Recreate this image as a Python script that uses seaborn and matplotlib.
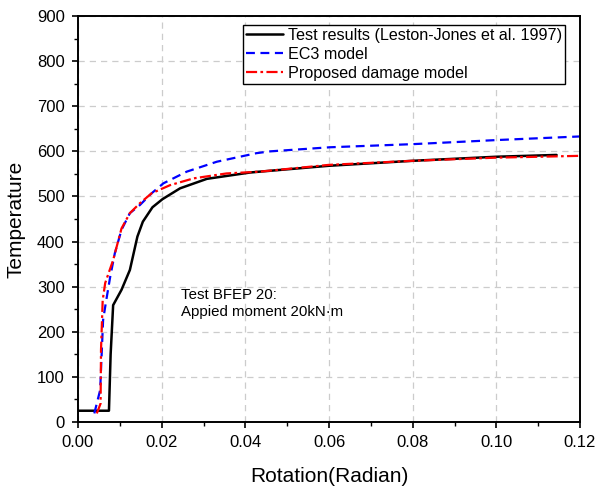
import pandas as pd
import matplotlib
matplotlib.use("Agg")
import matplotlib.pyplot as plt
import seaborn as sns
from matplotlib.ticker import MultipleLocator

# Test results (Leston-Jones et al. 1997)
test_rot = [0.0, 0.0074, 0.0078, 0.0084, 0.0104, 0.0124, 0.0142, 0.0155, 0.0178, 0.0202,
            0.0244, 0.0308, 0.0411, 0.0435, 0.06, 0.08, 0.10, 0.1144]
test_temp = [25, 25, 150, 259, 293, 337, 411, 444, 476, 494,
             518, 539, 553, 555, 568, 579, 588, 592]

# EC3 model
ec3_rot = [0.0039, 0.0053, 0.0057, 0.006, 0.0067, 0.0077, 0.0088, 0.0104, 0.0124, 0.0148,
           0.0176, 0.0204, 0.026, 0.0332, 0.0427, 0.046, 0.0602, 0.0802, 0.1001, 0.12]
ec3_temp = [19, 71, 160, 226, 267, 322, 374, 426, 463, 481,
            507, 529, 555, 577, 596, 600, 609, 616, 625, 633]

# Proposed damage model
dmg_rot = [0.0045, 0.0054, 0.0055, 0.0059, 0.0065, 0.0084, 0.0104, 0.0124, 0.0148, 0.0176,
           0.022, 0.0276, 0.0355, 0.0435, 0.06, 0.08, 0.10, 0.12]
dmg_temp = [19, 41, 160, 270, 308, 359, 429, 463, 485, 507,
            525, 540, 551, 555, 570, 579, 586, 590]

sns.set_style("ticks")
plt.rcParams['font.family'] = ['Liberation Sans', 'DejaVu Sans']
plt.rcParams['xtick.direction'] = 'out'
plt.rcParams['ytick.direction'] = 'out'
plt.rcParams['text.color'] = 'black'
plt.rcParams['axes.labelcolor'] = 'black'
plt.rcParams['xtick.labelcolor'] = 'black'
plt.rcParams['ytick.labelcolor'] = 'black'

fig, ax = plt.subplots(figsize=(5.97, 4.91), dpi=100)
fig.subplots_adjust(left=78 / 597, right=580 / 597, top=1 - 16 / 491, bottom=1 - 422 / 491)

df_test = pd.DataFrame({'rot': test_rot, 'temp': test_temp})
df_ec3 = pd.DataFrame({'rot': ec3_rot, 'temp': ec3_temp})
df_dmg = pd.DataFrame({'rot': dmg_rot, 'temp': dmg_temp})

sns.lineplot(data=df_test, x='rot', y='temp', sort=False, color='black', linewidth=1.8,
             label='Test results (Leston-Jones et al. 1997)', ax=ax)
sns.lineplot(data=df_ec3, x='rot', y='temp', sort=False, color='#0000ff', linewidth=1.6,
             label='EC3 model', ax=ax)
sns.lineplot(data=df_dmg, x='rot', y='temp', sort=False, color='#ff0000', linewidth=1.6,
             label='Proposed damage model', ax=ax)
ax.lines[1].set_dashes([4, 2.5])
ax.lines[2].set_dashes([5, 1.5, 1.2, 1.5])

ax.set_xlim(0, 0.12)
ax.set_ylim(0, 900)
ax.xaxis.set_major_locator(MultipleLocator(0.02))
ax.xaxis.set_minor_locator(MultipleLocator(0.01))
ax.yaxis.set_major_locator(MultipleLocator(100))
ax.yaxis.set_minor_locator(MultipleLocator(50))
ax.xaxis.set_major_formatter(plt.FuncFormatter(lambda v, p: f"{v:.2f}"))
ax.tick_params(which='major', length=4.5, width=1.2, labelsize=12, color='black',
               labelcolor='black', pad=5)
ax.tick_params(which='minor', length=2.8, width=1.0, color='black')
ax.grid(True, which='major', linestyle=(0, (5, 4)), color='#cccccc', linewidth=0.9)

for sp in ax.spines.values():
    sp.set_color('black')
    sp.set_linewidth(1.4)

ax.set_xlabel('Rotation(Radian)', fontsize=15, labelpad=12, color='black')
ax.set_ylabel('Temperature', fontsize=15, labelpad=8, color='black')

ax.text(0.0246, 262, 'Test BFEP 20:\nAppied moment 20kN·m', fontsize=10.8, va='center',
        linespacing=1.3, color='black')

leg = ax.legend(loc='upper right', bbox_to_anchor=(0.970, 0.978), fontsize=11.6,
                frameon=True, fancybox=False, framealpha=1, edgecolor='black',
                handlelength=2.3, handletextpad=0.3, borderpad=0.18, labelspacing=0.25,
                borderaxespad=0.0)
leg.get_frame().set_linewidth(1.0)
for t in leg.get_texts():
    t.set_color('black')

fig.savefig('out.png', dpi=100)
